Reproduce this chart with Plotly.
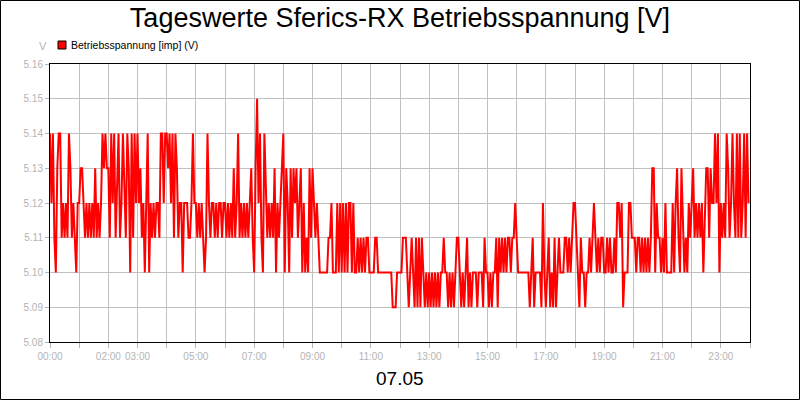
import pandas as pd
import plotly.graph_objects as go

# Messwerte alle 3 Minuten, eine Liste pro Stunde (V)
h00 = [5.14, 5.12, 5.14, 5.11, 5.10, 5.13, 5.14, 5.14, 5.11, 5.12, 5.11, 5.12, 5.11, 5.14, 5.13, 5.11, 5.12, 5.11, 5.10, 5.12]
h01 = [5.12, 5.13, 5.13, 5.12, 5.11, 5.12, 5.11, 5.12, 5.11, 5.12, 5.11, 5.13, 5.11, 5.12, 5.11, 5.12, 5.14, 5.13, 5.14, 5.13]
h02 = [5.13, 5.11, 5.14, 5.12, 5.14, 5.11, 5.13, 5.14, 5.11, 5.12, 5.14, 5.12, 5.11, 5.14, 5.13, 5.10, 5.14, 5.11, 5.14, 5.12]
h03 = [5.14, 5.12, 5.13, 5.11, 5.12, 5.10, 5.12, 5.14, 5.10, 5.12, 5.11, 5.12, 5.11, 5.12, 5.12, 5.11, 5.14, 5.14, 5.12, 5.14]
h04 = [5.14, 5.13, 5.14, 5.12, 5.14, 5.11, 5.14, 5.13, 5.11, 5.12, 5.12, 5.10, 5.12, 5.12, 5.12, 5.11, 5.11, 5.12, 5.14, 5.12]
h05 = [5.12, 5.11, 5.12, 5.11, 5.12, 5.11, 5.10, 5.11, 5.14, 5.12, 5.11, 5.12, 5.12, 5.11, 5.12, 5.11, 5.12, 5.12, 5.11, 5.12]
h06 = [5.12, 5.11, 5.12, 5.11, 5.12, 5.11, 5.13, 5.11, 5.12, 5.14, 5.11, 5.12, 5.11, 5.12, 5.11, 5.12, 5.11, 5.12, 5.13, 5.11]
h07 = [5.10, 5.13, 5.15, 5.12, 5.14, 5.11, 5.10, 5.14, 5.12, 5.11, 5.12, 5.11, 5.12, 5.11, 5.13, 5.10, 5.12, 5.11, 5.12, 5.13]
h08 = [5.14, 5.10, 5.13, 5.12, 5.10, 5.13, 5.11, 5.13, 5.12, 5.13, 5.11, 5.12, 5.13, 5.10, 5.12, 5.10, 5.11, 5.10, 5.13, 5.11]
h09 = [5.13, 5.12, 5.11, 5.12, 5.11, 5.10, 5.10, 5.10, 5.10, 5.10, 5.10, 5.11, 5.11, 5.12, 5.10, 5.10, 5.10, 5.12, 5.10, 5.12]
h10 = [5.10, 5.12, 5.10, 5.12, 5.10, 5.12, 5.12, 5.10, 5.12, 5.10, 5.10, 5.11, 5.10, 5.11, 5.10, 5.11, 5.10, 5.11, 5.11, 5.10]
h11 = [5.10, 5.10, 5.10, 5.11, 5.11, 5.10, 5.10, 5.10, 5.10, 5.10, 5.10, 5.10, 5.10, 5.10, 5.10, 5.09, 5.09, 5.09, 5.10, 5.10]
h12 = [5.10, 5.10, 5.11, 5.11, 5.11, 5.10, 5.09, 5.10, 5.11, 5.10, 5.09, 5.11, 5.09, 5.11, 5.09, 5.11, 5.10, 5.09, 5.10, 5.09]
h13 = [5.10, 5.09, 5.10, 5.09, 5.10, 5.09, 5.10, 5.09, 5.10, 5.10, 5.11, 5.10, 5.10, 5.09, 5.10, 5.09, 5.10, 5.09, 5.10, 5.11]
h14 = [5.11, 5.10, 5.09, 5.10, 5.09, 5.10, 5.11, 5.09, 5.10, 5.09, 5.10, 5.10, 5.10, 5.09, 5.10, 5.10, 5.10, 5.09, 5.11, 5.10]
h15 = [5.10, 5.09, 5.10, 5.09, 5.10, 5.10, 5.11, 5.09, 5.11, 5.10, 5.11, 5.10, 5.11, 5.10, 5.11, 5.11, 5.10, 5.11, 5.11, 5.12]
h16 = [5.11, 5.10, 5.10, 5.10, 5.10, 5.10, 5.10, 5.10, 5.10, 5.09, 5.10, 5.11, 5.09, 5.10, 5.10, 5.10, 5.10, 5.09, 5.12, 5.10]
h17 = [5.09, 5.10, 5.11, 5.09, 5.10, 5.09, 5.11, 5.09, 5.10, 5.11, 5.10, 5.10, 5.10, 5.11, 5.11, 5.10, 5.11, 5.10, 5.11, 5.12]
h18 = [5.12, 5.11, 5.10, 5.09, 5.11, 5.10, 5.10, 5.09, 5.10, 5.10, 5.11, 5.10, 5.11, 5.12, 5.11, 5.10, 5.11, 5.10, 5.11, 5.11]
h19 = [5.10, 5.10, 5.11, 5.10, 5.11, 5.10, 5.10, 5.11, 5.10, 5.12, 5.12, 5.11, 5.12, 5.09, 5.10, 5.10, 5.10, 5.12, 5.12, 5.11]
h20 = [5.11, 5.11, 5.10, 5.11, 5.11, 5.10, 5.11, 5.10, 5.11, 5.10, 5.11, 5.10, 5.11, 5.13, 5.13, 5.10, 5.12, 5.11, 5.11, 5.10]
h21 = [5.11, 5.10, 5.12, 5.10, 5.10, 5.10, 5.10, 5.12, 5.10, 5.12, 5.13, 5.11, 5.10, 5.13, 5.11, 5.10, 5.11, 5.10, 5.12, 5.11]
h22 = [5.12, 5.13, 5.11, 5.12, 5.11, 5.12, 5.11, 5.12, 5.10, 5.12, 5.13, 5.13, 5.11, 5.13, 5.12, 5.12, 5.14, 5.12, 5.14, 5.10]
h23 = [5.12, 5.11, 5.12, 5.11, 5.14, 5.13, 5.11, 5.12, 5.14, 5.12, 5.11, 5.14, 5.11, 5.14, 5.11, 5.12, 5.14, 5.11, 5.14, 5.12]

hours = [h00, h01, h02, h03, h04, h05, h06, h07, h08, h09, h10, h11,
         h12, h13, h14, h15, h16, h17, h18, h19, h20, h21, h22, h23]
values = [v for h in hours for v in h]

day = "2012-05-07"
times = pd.date_range(day + " 00:00", periods=len(values), freq="3min")

# Achsenbeschriftung wie im Original (nicht jede Stunde beschriftet)
tick_hours = list(range(25))
tick_labels = {0: "00:00", 2: "02:00", 3: "03:00", 5: "05:00", 7: "07:00", 9: "09:00",
               11: "11:00", 13: "13:00", 15: "15:00", 17: "17:00", 19: "19:00",
               21: "21:00", 23: "23:00"}
y_ticks = [5.08, 5.09, 5.10, 5.11, 5.12, 5.13, 5.14, 5.15, 5.16]

tickvals = [pd.Timestamp(day) + pd.Timedelta(hours=h) for h in tick_hours]
ticktext = [tick_labels.get(h, "") for h in tick_hours]

fig = go.Figure()
fig.add_trace(go.Scatter(
    x=times, y=values, mode="lines",
    line=dict(color="#ff0000", width=2),
    name="Betriebsspannung [imp] (V)",
    showlegend=False,
))

grey = "#b4b4b4"
fig.update_layout(
    width=800, height=400,
    margin=dict(l=50, r=50, t=64, b=58, autoexpand=False),
    paper_bgcolor="white", plot_bgcolor="white",
    font=dict(family="Liberation Sans, Arial, sans-serif", size=11, color="black"),
    title=dict(text="Tageswerte Sferics-RX Betriebsspannung [V]",
               x=0.5, xanchor="center", y=0.955, yanchor="middle",
               font=dict(size=27, color="black")),
    xaxis=dict(
        range=[tickvals[0], tickvals[-1]],
        tickvals=tickvals, ticktext=ticktext, tickangle=0,
        showgrid=True, gridcolor="#c0c0c0", gridwidth=1,
        showline=True, linecolor="black", linewidth=1, mirror=True,
        ticks="outside", ticklen=5, tickcolor=grey,
        tickfont=dict(color=grey, size=10),
        zeroline=False, automargin=False,
    ),
    yaxis=dict(
        range=[5.08, 5.16],
        tickvals=y_ticks, ticktext=["%.2f" % v for v in y_ticks],
        showgrid=True, gridcolor="#c0c0c0", gridwidth=1,
        showline=True, linecolor="black", linewidth=1, mirror=True,
        ticks="outside", ticklen=4, tickcolor=grey,
        tickfont=dict(color=grey, size=10),
        zeroline=False, automargin=False,
    ),
)

# Legende mit quadratischem Symbol
fig.add_shape(type="rect", xref="paper", yref="paper",
              x0=8 / 700, x1=16 / 700, y0=(342 - 49) / 278, y1=(342 - 41) / 278,
              fillcolor="#ff0000", line=dict(color="black", width=1))
fig.add_annotation(text="Betriebsspannung [imp] (V)", xref="paper", yref="paper",
                   x=19 / 700, y=(342 - 45) / 278, xanchor="left", yanchor="middle",
                   showarrow=False, font=dict(size=10.5, color="black"))
fig.add_annotation(text="V", xref="paper", yref="paper",
                   x=-7 / 700, y=(342 - 46) / 278, xanchor="center", yanchor="middle",
                   showarrow=False, font=dict(size=11, color=grey))
fig.add_annotation(text="07.05", xref="paper", yref="paper",
                   x=0.5, y=(342 - 378) / 278, xanchor="center", yanchor="middle",
                   showarrow=False, font=dict(size=19, color="black"))

# Rahmen um das ganze Bild
fig.add_shape(type="rect", xref="paper", yref="paper",
              x0=-49.5 / 700, x1=749.5 / 700, y0=-57.5 / 278, y1=341.5 / 278,
              line=dict(color="black", width=1), fillcolor="rgba(0,0,0,0)")

# Seitenrand des Browsers entfernen, damit die Grafik bei 0,0 beginnt
fig.write_html("out.html", config={"displayModeBar": False},
               post_script="document.body.style.margin='0';")
